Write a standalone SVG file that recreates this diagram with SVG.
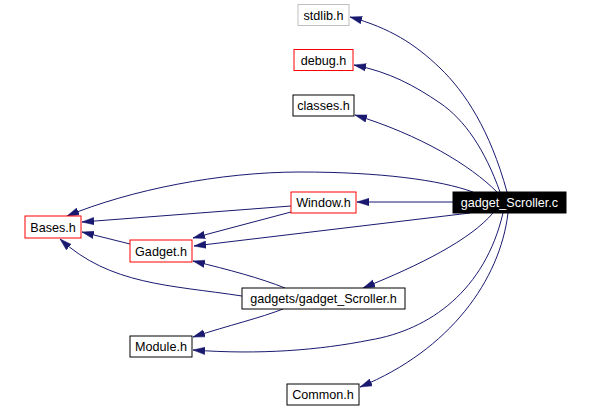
<svg xmlns="http://www.w3.org/2000/svg" width="593" height="408" viewBox="0 0 593 408">
<style>
.n rect{fill:#fff;stroke:#000;stroke-width:1}
.n.red rect{stroke:#ff0000}
.n.gray rect{stroke:#bfbfbf}
.n.main rect{fill:#000}
.n text{font-family:"Liberation Sans",Arial,sans-serif;font-size:12.6px;text-anchor:middle;fill:#000}
.n.main text{fill:#fff}
.e path{fill:none;stroke:#191970;stroke-width:1;marker-end:url(#ah)}
</style>
<defs>
<marker id="ah" markerUnits="userSpaceOnUse" markerWidth="12" markerHeight="9" refX="12" refY="4.5" orient="auto">
<path d="M0,0.8 L12,4.5 L0,8.2 z" fill="#191970" stroke="#191970" stroke-width="0.5"/>
</marker>
</defs>
<rect width="593" height="408" fill="#fff"/>
<g id="connectors" class="e">
<path d="M507,192 C490,130 465,92 440,68 C415,44 390,28 350,17"/>
<path d="M500,192 C485,150 465,120 440,103 C415,86 390,72 354,65"/>
<path d="M497,192 C470,165 420,135 355,115"/>
<path d="M453,202 L357,202"/>
<path d="M473,192 C440,180 380,172 300,172 C220,172 130,190 67,216"/>
<path d="M291,206 L82,222"/>
<path d="M130,244 L82,232"/>
<path d="M291,212 L193,238"/>
<path d="M470,213 L194,246"/>
<path d="M285,288 C260,278 230,270 193,261"/>
<path d="M242,296 C170,285 110,285 60,239"/>
<path d="M493,213 C470,240 420,265 363,288"/>
<path d="M283,309 C260,318 230,325 193,337"/>
<path d="M503,213 C485,290 430,330 370,340 C320,350 260,355 193,350"/>
<path d="M508,213 C500,280 450,350 360,387"/>
</g>
<g id="node-gadget_Scroller_c" class="n main"><rect x="453" y="192" width="113" height="21"/><text x="509.5" y="207.3">gadget_Scroller.c</text></g>
<g id="node-stdlib_h" class="n gray"><rect x="298" y="4.5" width="51" height="21"/><text x="323.5" y="19.8">stdlib.h</text></g>
<g id="node-debug_h" class="n red"><rect x="294" y="49.5" width="59" height="21"/><text x="323.5" y="64.8">debug.h</text></g>
<g id="node-classes_h" class="n"><rect x="293" y="95" width="61" height="21"/><text x="323.5" y="110.3">classes.h</text></g>
<g id="node-Window_h" class="n red"><rect x="291" y="192" width="65" height="21"/><text x="323.5" y="207.3">Window.h</text></g>
<g id="node-Bases_h" class="n red"><rect x="25" y="216" width="56" height="22"/><text x="53" y="231.8">Bases.h</text></g>
<g id="node-Gadget_h" class="n red"><rect x="130" y="240" width="62" height="22"/><text x="161" y="255.8">Gadget.h</text></g>
<g id="node-gadgets_gadget_Scroller_h" class="n"><rect x="242" y="288" width="163" height="21"/><text x="323.5" y="303.3">gadgets/gadget_Scroller.h</text></g>
<g id="node-Module_h" class="n"><rect x="130" y="336" width="62" height="21"/><text x="161" y="351.3">Module.h</text></g>
<g id="node-Common_h" class="n"><rect x="287" y="384" width="72" height="21"/><text x="323" y="399.3">Common.h</text></g>
</svg>
